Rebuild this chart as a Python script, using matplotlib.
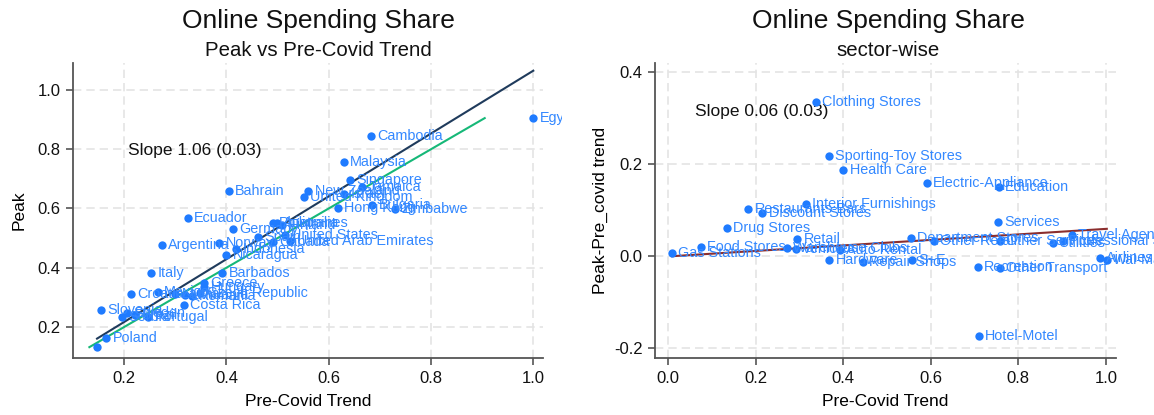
import matplotlib
matplotlib.use("Agg")
import matplotlib.pyplot as plt
import numpy as np
from matplotlib.ticker import FormatStrFormatter
from matplotlib.transforms import Bbox, TransformedBbox

plt.rcParams['font.family'] = ['Liberation Sans', 'DejaVu Sans']
plt.rcParams['axes.unicode_minus'] = False

# ---------------- data: country level ----------------
countries = ["Egypt", "Cambodia", "Malaysia", "Singapore", "Jamaica", "New Zealand", "Israel",
             "United Kingdom", "Hong Kong", "Bulgaria", "Zimbabwe", "Bahrain", "Ecuador", "Germany",
             "Argentina", "Norway", "Indonesia", "Nicaragua", "Philippines", "Australia", "Finland",
             "Spain", "United States", "Canada", "United Arab Emirates", "Italy", "Barbados", "Greece",
             "Hungary", "Croatia", "Mexico", "Czech Republic", "Lithuania", "Romania", "Latvia",
             "Costa Rica", "Slovenia", "Sweden", "Serbia", "Brazil", "Portugal", "Poland", ""]
pre_covid = [1.000, 0.683, 0.630, 0.642, 0.665, 0.560, 0.630,
             0.552, 0.618, 0.685, 0.730, 0.405, 0.325, 0.413,
             0.274, 0.386, 0.419, 0.400, 0.491, 0.499, 0.509,
             0.462, 0.515, 0.491, 0.525, 0.253, 0.392, 0.357,
             0.357, 0.214, 0.266, 0.349, 0.319, 0.333, 0.300,
             0.317, 0.155, 0.206, 0.196, 0.222, 0.247, 0.165, 0.147]
peak = [0.905, 0.845, 0.757, 0.696, 0.673, 0.659, 0.649,
        0.639, 0.602, 0.612, 0.598, 0.659, 0.568, 0.531,
        0.477, 0.484, 0.463, 0.443, 0.551, 0.551, 0.544,
        0.504, 0.511, 0.487, 0.490, 0.382, 0.382, 0.349,
        0.335, 0.311, 0.318, 0.315, 0.308, 0.305, 0.311,
        0.274, 0.257, 0.247, 0.234, 0.241, 0.234, 0.163, 0.132]
fit_left = (1.06, 0.005)       # slope, intercept
slope_text_left = "Slope 1.06 (0.03)"

# ---------------- data: sector level ----------------
sectors = ["Clothing Stores", "Sporting-Toy Stores", "Health Care", "Electric-Appliance", "Education",
           "Interior Furnishings", "Restaurants-Bars", "Discount Stores", "Services", "Drug Stores",
           "Travel Agencies", "Retail", "Department Stores", "Other Retail", "Other Services",
           "Professional Services", "Utilities", "Food Stores", "Warehouse Clubs", "Vehicles",
           "Auto Rental", "Gas Stations", "Airlines", "Hardware", "S+E", "Wal-Mart",
           "Repair Shops", "Recreation", "Other Transport", "Hotel-Motel"]
sector_pre = [0.338, 0.368, 0.400, 0.591, 0.756,
              0.315, 0.183, 0.215, 0.753, 0.135,
              0.922, 0.295, 0.555, 0.607, 0.758,
              0.902, 0.879, 0.075, 0.272, 0.292,
              0.393, 0.009, 0.986, 0.368, 0.557, 1.002,
              0.445, 0.708, 0.758, 0.710]
sector_diff = [0.335, 0.217, 0.187, 0.159, 0.150,
               0.113, 0.102, 0.093, 0.074, 0.061,
               0.046, 0.037, 0.039, 0.033, 0.033,
               0.033, 0.028, 0.020, 0.017, 0.016,
               0.013, 0.007, -0.004, -0.009, -0.009, -0.009,
               -0.013, -0.024, -0.026, -0.174]
fit_right = (0.06, -0.001)
slope_text_right = "Slope 0.06 (0.03)"

# ---------------- styling ----------------
W, H = 1154, 415
fig = plt.figure(figsize=(W / 100, H / 100), dpi=100)
pt_color = '#1f7bff'
lbl_color = '#3388ff'
spine_c = '#555555'

def fx(px):
    return px / W

def fy(py):
    return 1 - py / H

axL = fig.add_axes([fx(73), fy(358), fx(543) - fx(73), fy(63) - fy(358)])
axR = fig.add_axes([fx(655), fy(358), fx(1116) - fx(655), fy(63) - fy(358)])

def style(ax):
    for s in ['top', 'right']:
        ax.spines[s].set_visible(False)
    for s in ['left', 'bottom']:
        ax.spines[s].set_color(spine_c)
        ax.spines[s].set_linewidth(1.3)
    ax.tick_params(axis='both', length=5, width=1.2, color=spine_c, labelsize=12,
                   labelcolor='#111111', direction='out', pad=4)
    ax.grid(True, color='#e4e4e4', linestyle=(0, (5, 3)), linewidth=1.2)
    ax.set_axisbelow(True)
    ax.xaxis.set_major_formatter(FormatStrFormatter('%.1f'))
    ax.yaxis.set_major_formatter(FormatStrFormatter('%.1f'))

# ---------------- left panel ----------------
style(axL)
axL.set_xlim(0.100, 1.019)
axL.set_ylim(0.0954, 1.091)
axL.set_xticks([0.2, 0.4, 0.6, 0.8, 1.0])
axL.set_yticks([0.2, 0.4, 0.6, 0.8, 1.0])

xmin, xmax = min(pre_covid), max(pre_covid)
xs = np.array([xmin, xmax])
axL.plot(xs, fit_left[0] * xs + fit_left[1], color='#1f3b5c', lw=1.5, zorder=3)
ymin, ymax = min(peak), max(peak)
ys = np.array([ymin, ymax])
axL.plot(ys, ys, color='#16b878', lw=1.5, zorder=3)
axL.plot(pre_covid, peak, 'o', color=pt_color, ms=6, mec='none', zorder=4)

clipL = TransformedBbox(Bbox([[0, 0], [562 / W, 1]]), fig.transFigure)
for name, x, y in zip(countries, pre_covid, peak):
    if not name:
        continue
    t = axL.annotate(name, (x, y), xytext=(4.5, 0), textcoords='offset points',
                     va='center', ha='left', fontsize=10.4, color=lbl_color, zorder=5,
                     annotation_clip=False)
    t.set_clip_on(True)
    t.set_clip_box(clipL)

axL.text(0.208, 0.796, slope_text_left, fontsize=12.5, color='#111111', va='center', ha='left')
axL.set_xlabel("Pre-Covid Trend", fontsize=12.5, labelpad=6)
axL.set_ylabel("Peak", fontsize=12.5, labelpad=8)

# ---------------- right panel ----------------
style(axR)
axR.set_xlim(-0.030, 1.023)
axR.set_ylim(-0.222, 0.420)
axR.set_xticks([0.0, 0.2, 0.4, 0.6, 0.8, 1.0])
axR.set_yticks([-0.2, 0.0, 0.2, 0.4])

sx = np.array([min(sector_pre), max(sector_pre)])
axR.plot(sx, fit_right[0] * sx + fit_right[1], color='#8b2e2e', lw=1.5, zorder=3)
axR.plot(sector_pre, sector_diff, 'o', color=pt_color, ms=6, mec='none', zorder=4)
for name, x, y in zip(sectors, sector_pre, sector_diff):
    axR.annotate(name, (x, y), xytext=(4.5, 0), textcoords='offset points',
                 va='center', ha='left', fontsize=10.4, color=lbl_color, zorder=5,
                 annotation_clip=False)

axR.text(0.062, 0.315, slope_text_right, fontsize=12.5, color='#111111', va='center', ha='left')
axR.set_xlabel("Pre-Covid Trend", fontsize=12.5, labelpad=6)
axR.set_ylabel("Peak-Pre_covid trend", fontsize=12.5, labelpad=4)

# ---------------- titles ----------------
fig.text(fx(318), fy(21), "Online Spending Share", fontsize=19, ha='center', va='center', color='#111111')
fig.text(fx(318), fy(51), "Peak vs Pre-Covid Trend", fontsize=14.7, ha='center', va='center', color='#111111')
fig.text(fx(888), fy(21), "Online Spending Share", fontsize=19, ha='center', va='center', color='#111111')
fig.text(fx(888), fy(51), "sector-wise", fontsize=14.7, ha='center', va='center', color='#111111')

fig.savefig("out.png", dpi=100, facecolor='white')
